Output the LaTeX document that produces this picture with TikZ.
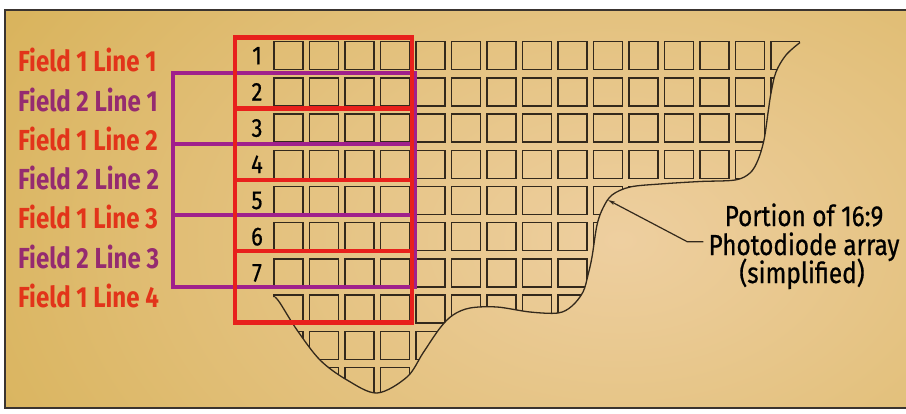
\documentclass[tikz,border=0pt]{standalone}
\usepackage{fontspec}
\setmainfont{Fira Sans}
\newfontfamily\lblfont[FakeStretch=0.83]{Fira Sans}
\newfontfamily\annfont[FakeStretch=0.84,FakeBold=0.6]{Fira Sans}
\usetikzlibrary{arrows.meta}
\definecolor{bggold}{HTML}{D0A840}
\definecolor{bgpeach}{HTML}{EECFA0}
\definecolor{framec}{HTML}{3A3430}
\definecolor{cellc}{HTML}{33291C}
\definecolor{redline}{HTML}{E8201C}
\definecolor{purpline}{HTML}{A0208C}
\definecolor{redtxt}{HTML}{E2341A}
\definecolor{purtxt}{HTML}{952B70}
\begin{document}
\begin{tikzpicture}[x=1pt,y=-1pt,
  cell/.style={draw=cellc, line width=1.3pt},
  outl/.style={draw=cellc, line width=1.3pt},
  fonebox/.style={draw=redline, line width=4.4pt},
  ftwobox/.style={draw=purpline, line width=4pt},
  fonelbl/.style={font=\lblfont\bfseries\fontsize{29}{29}\selectfont, text=redtxt, anchor=base west, inner sep=0pt},
  ftwolbl/.style={font=\lblfont\bfseries\fontsize{29}{29}\selectfont, text=purtxt, anchor=base west, inner sep=0pt},
  numlbl/.style={font=\annfont\fontsize{26}{26}\selectfont, anchor=center, inner sep=0pt},
  annlbl/.style={font=\annfont\fontsize{29}{29}\selectfont, anchor=base, inner sep=0pt},
  leader/.style={draw=cellc, line width=1.2pt, -{Stealth[length=7pt,width=3.5pt]}}
]
\useasboundingbox (0,0) rectangle (906,413);
\fill[white] (0,0) rectangle (906,413);
% background
\begin{scope}
  \clip (5,10) rectangle (906,408);
  \fill[bggold] (5,10) rectangle (906,408);
  \shade[inner color=bgpeach, outer color=bggold] (620,240) ellipse (1000 and 660);
\end{scope}
\draw[framec, line width=1.6pt] (906,10) -- (5,10) -- (5,408) -- (906,408);
% photodiode grid, clipped by the outline
\begin{scope}
  \clip plot[smooth,tension=0.55] coordinates {(800,42.5) (786,55) (776,72) (771,93) (768,113) (764,140) (758,160) (750,173) (735,180) (700,181.5) (660,184) (630,187) (612,195) (603,208) (597,225) (592,257) (588,275) (583,292) (572,306) (558,313) (530,312) (497,307) (470,308) (453,315) (440,328) (423,353) (407,377) (377,393) (347,380) (320,360) (297,330) (280,303) (275,297)}
    -- (268,297) -- (268,38) -- (800,38) -- cycle;
  \foreach \i in {1,...,15}
    \foreach \j in {0,...,9}
      \draw[cell] ({274+35.5*(\i-1)},{41.7+36.2*\j}) rectangle ++(29,28);
\end{scope}
\draw[outl] plot[smooth,tension=0.55] coordinates {(800,42.5) (786,55) (776,72) (771,93) (768,113) (764,140) (758,160) (750,173) (735,180) (700,181.5) (660,184) (630,187) (612,195) (603,208) (597,225) (592,257) (588,275) (583,292) (572,306) (558,313) (530,312) (497,307) (470,308) (453,315) (440,328) (423,353) (407,377) (377,393) (347,380) (320,360) (297,330) (280,303) (275,297)};
% field 2 frames (purple)
\foreach \k in {0,1,2}
  \draw[ftwobox] (172.7,{72.7+71.33*\k}) rectangle (415,{72.7+71.33*(\k+1)});
% field 1 frames (red)
\foreach \k in {0,1,2,3}
  \draw[fonebox] (235,{37.3+71.33*\k}) rectangle (412,{37.3+71.33*(\k+1)});
% line numbers
\foreach \n [count=\j from 0] in {1,...,7}
  \node[numlbl] (num\n) at (257,{55.7+36.2*\j}) {\n};
% labels
\node[fonelbl] (lab1) at (18,71.7)  {Field 1 Line 1};
\node[ftwolbl] (lab2) at (18,111.0) {Field 2 Line 1};
\node[fonelbl] (lab3) at (18,150.3) {Field 1 Line 2};
\node[ftwolbl] (lab4) at (18,189.6) {Field 2 Line 2};
\node[fonelbl] (lab5) at (18,228.9) {Field 1 Line 3};
\node[ftwolbl] (lab6) at (18,268.2) {Field 2 Line 3};
\node[fonelbl] (lab7) at (18,307.5) {Field 1 Line 4};
% annotation
\node[annlbl] (ann1) at (804,226) {Portion of 16:9};
\node[annlbl] (ann2) at (804,255) {Photodiode array};
\node[annlbl] (ann3) at (802,283) {(simplified)};
\coordinate (lstart) at ([xshift=-5pt,yshift=5pt]ann2.west);
\coordinate (tipend) at (608,200);
\draw[leader] (lstart) -- ++(-16,0) -- (tipend);
\end{tikzpicture}
\end{document}
